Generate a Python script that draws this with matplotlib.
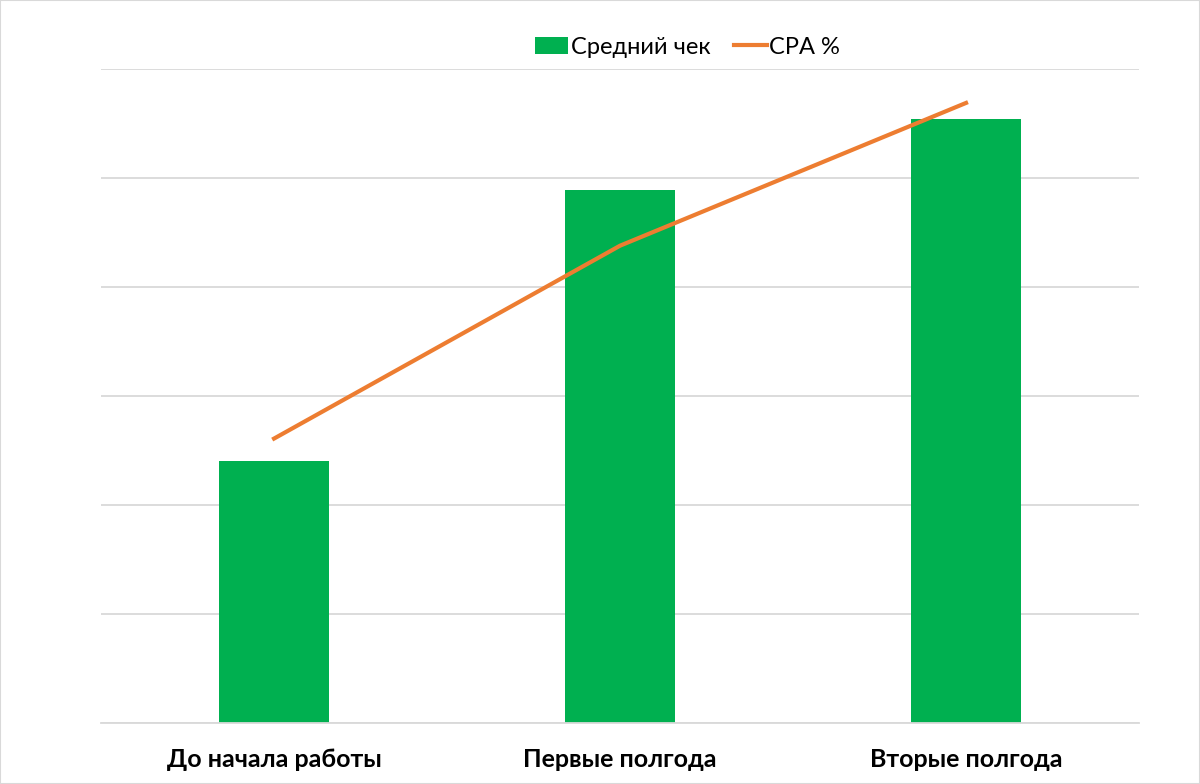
import matplotlib
matplotlib.use("Agg")
import matplotlib.pyplot as plt
import numpy as np

categories = ["До начала работы", "Первые полгода", "Вторые полгода"]
avg_check = [2.40, 4.89, 5.54]
cpa = [2.61, 4.38, 5.69]

plt.rcParams['font.family'] = ['Lato', 'DejaVu Sans']

fig = plt.figure(figsize=(12, 7.84), dpi=100)
ax = fig.add_axes([0.0842, 0.0778, 0.865, 0.834])

x = np.arange(len(categories))
bars = ax.bar(x, avg_check, width=0.318, color='#00B050', label='Средний чек', zorder=2)
line, = ax.plot(x, cpa, color='#ED7D31', linewidth=3, label='CPA %', zorder=3)

ax.set_xlim(-0.5, 2.5)
ax.set_ylim(0, 6)
ax.set_yticks(np.arange(0, 7, 1))
ax.set_yticklabels([])
ax.tick_params(axis='y', length=0)
ax.tick_params(axis='x', length=0, pad=18)
ax.set_xticks(x)
ax.set_xticklabels(categories, fontsize=18, fontweight='bold')
ax.grid(axis='y', color='#D9D9D9', linewidth=1.3, zorder=0)
for s in ['top', 'right', 'left']:
    ax.spines[s].set_visible(False)
ax.spines['bottom'].set_color('#D9D9D9')
ax.spines['bottom'].set_linewidth(1.3)

fig.legend([bars, line], ['Средний чек', 'CPA %'], loc='center',
           bbox_to_anchor=(0.573, 0.94), ncol=2, frameon=False,
           fontsize=17, handlelength=1.4, handletextpad=0.1, columnspacing=1.0)

fig.patches.append(plt.Rectangle((0, 0), 1, 1, transform=fig.transFigure,
                                 fill=False, edgecolor='#D9D9D9', linewidth=1.5))

fig.savefig("out.png", dpi=100)
